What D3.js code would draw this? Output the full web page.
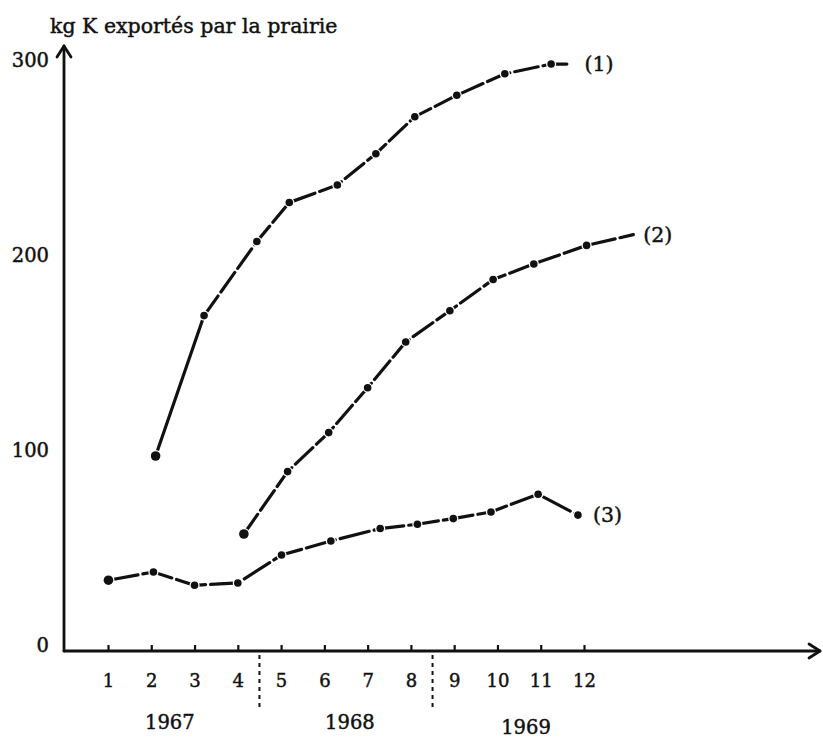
<!DOCTYPE html>
<html>
<head>
<meta charset="utf-8">
<script src="https://cdn.jsdelivr.net/npm/d3@7"></script>
<style>
  html, body { margin: 0; padding: 0; background: #fff; }
  svg { display: block; }
  text { font-family: "DejaVu Serif", "Liberation Serif", serif; fill: #111; stroke: #111; stroke-width: 0.45px; }
</style>
</head>
<body>
<svg id="chart" width="823" height="739"></svg>
<script>
// ---- data ----
const title = "kg K exportés par la prairie";
const monthTicks = [1, 2, 3, 4, 5, 6, 7, 8, 9, 10, 11, 12];
const yTicks = [0, 100, 200, 300];
const years = ["1967", "1968", "1969"];
const yearCenters = [2.43, 6.59, 10.66];      // in month units
const yearSeparators = [4.5, 8.5];            // in month units

// series (1)
const s1x = [2.10, 3.22, 4.44, 5.19, 6.30, 7.19, 8.09, 9.06, 10.17, 11.24];
const s1y = [100, 172, 210, 230, 239, 255, 274, 285, 296, 301];
const s1TailX = 11.69, s1TailY = 301;
// series (2)
const s2x = [4.14, 5.15, 6.10, 7.00, 7.88, 8.90, 9.90, 10.84, 12.06];
const s2y = [60, 92, 112, 135, 158.5, 174.5, 190.5, 198.5, 208];
const s2TailX = 13.14, s2TailY = 213.5;
// series (3)
const s3x = [1.01, 2.05, 3.00, 4.00, 5.01, 6.15, 7.29, 8.15, 8.98, 9.85, 10.94, 11.86];
const s3y = [36.3, 40.5, 33.7, 34.9, 49.2, 56.4, 62.8, 65.0, 67.9, 71.3, 80.4, 69.7];
const seriesLabels = ["(1)", "(2)", "(3)"];

// ---- drawing ----
const FONT = '"DejaVu Serif", "Liberation Serif", serif';
const svg = d3.select("#chart");
const x = d3.scaleLinear().domain([1, 12]).range([108, 584]);
const y = d3.scaleLinear().domain([0, 300]).range([651, 66]);
const axisX0 = 64;           // y-axis position (px)
const axisY0 = y(0);

// Title
svg.append("text")
  .attr("x", 50).attr("y", 33)
  .attr("font-size", 20.5)
  .text(title);

// Axis lines with arrows
const g = svg.append("g").attr("stroke", "#111").attr("fill", "none")
  .attr("stroke-width", 2.8).attr("stroke-linecap", "round").attr("stroke-linejoin", "round");
g.append("line").attr("x1", axisX0).attr("y1", axisY0).attr("x2", axisX0).attr("y2", 46);
g.append("path").attr("d", `M${axisX0 - 7},${57} L${axisX0},${46} L${axisX0 + 7},${57}`);
g.append("line").attr("x1", axisX0).attr("y1", axisY0).attr("x2", 820).attr("y2", axisY0);
g.append("path").attr("d", `M${809},${axisY0 - 7} L${820},${axisY0} L${809},${axisY0 + 7}`);

// x axis ticks & labels
const xAxis = d3.axisBottom(x).tickValues(monthTicks).tickFormat(d3.format("d"))
  .tickSizeInner(-6).tickSizeOuter(0).tickPadding(23);
const gx = svg.append("g").attr("transform", `translate(0,${axisY0})`).call(xAxis);
gx.select(".domain").remove();
gx.selectAll(".tick line").attr("stroke", "#111").attr("stroke-width", 2.2);
gx.selectAll(".tick text").attr("font-size", 18).attr("fill", "#111")
  .style("font-family", FONT);

// y axis labels
const yAxis = d3.axisLeft(y).tickValues(yTicks).tickFormat(d3.format("d"))
  .tickSize(0).tickPadding(15);
const gy = svg.append("g").attr("transform", `translate(${axisX0},0)`).call(yAxis);
gy.select(".domain").remove();
gy.selectAll(".tick text").attr("font-size", 19.5).attr("fill", "#111")
  .attr("dy", "0.0em")
  .style("font-family", FONT);

// year separators
svg.append("g").selectAll("line").data(yearSeparators).join("line")
  .attr("x1", d => x(d)).attr("x2", d => x(d))
  .attr("y1", axisY0 + 4).attr("y2", axisY0 + 57)
  .attr("stroke", "#111").attr("stroke-width", 2).attr("stroke-dasharray", "4,4");

// year labels
svg.append("g").selectAll("text").data(years).join("text")
  .attr("x", (d, i) => x(yearCenters[i]))
  .attr("y", (d, i) => axisY0 + 78 + (i === 2 ? 5 : 0))
  .attr("text-anchor", "middle").attr("font-size", 19.5)
  .text(d => d);

// series
const series = [
  { xs: s1x, ys: s1y, tail: [s1TailX, s1TailY], solidFirst: true, label: seriesLabels[0] },
  { xs: s2x, ys: s2y, tail: [s2TailX, s2TailY], solidFirst: false, label: seriesLabels[1] },
  { xs: s3x, ys: s3y, tail: null, solidFirst: false, label: seriesLabels[2] }
];
const line = d3.line().x(d => x(d[0])).y(d => y(d[1]));

series.forEach((s, si) => {
  const pts = s.xs.map((v, i) => [v, s.ys[i]]);
  const linePts = s.tail ? pts.concat([s.tail]) : pts;
  const gs = svg.append("g");
  if (s.solidFirst) {
    gs.append("path").attr("d", line(linePts.slice(0, 2)))
      .attr("fill", "none").attr("stroke", "#111").attr("stroke-width", 3.2)
      .attr("stroke-linecap", "round");
    gs.append("path").attr("d", line(linePts.slice(1)))
      .attr("fill", "none").attr("stroke", "#111").attr("stroke-width", 3.2)
      .attr("stroke-dasharray", "24,5").attr("stroke-linecap", "round");
  } else {
    gs.append("path").attr("d", line(linePts))
      .attr("fill", "none").attr("stroke", "#111").attr("stroke-width", 3.2)
      .attr("stroke-dasharray", si === 2 ? "30,5" : "24,5").attr("stroke-linecap", "round");
  }
  gs.selectAll("circle").data(pts).join("circle")
    .attr("cx", d => x(d[0])).attr("cy", d => y(d[1]))
    .attr("r", (d, i) => i === 0 ? 4.8 : 3.8)
    .attr("fill", "#111").attr("stroke", "#fff").attr("stroke-width", 2.6)
    .attr("paint-order", "stroke");
});

// series labels
const labelPos = [[s1TailX, s1TailY, 14], [s2TailX, s2TailY, 10], [s3x[s3x.length - 1], s3y[s3y.length - 1], 15]];
svg.append("g").selectAll("text").data(seriesLabels).join("text")
  .attr("x", (d, i) => x(labelPos[i][0]) + labelPos[i][2])
  .attr("y", (d, i) => y(labelPos[i][1]))
  .attr("dy", "0.35em").attr("font-size", 20.5)
  .text(d => d);
</script>
</body>
</html>
